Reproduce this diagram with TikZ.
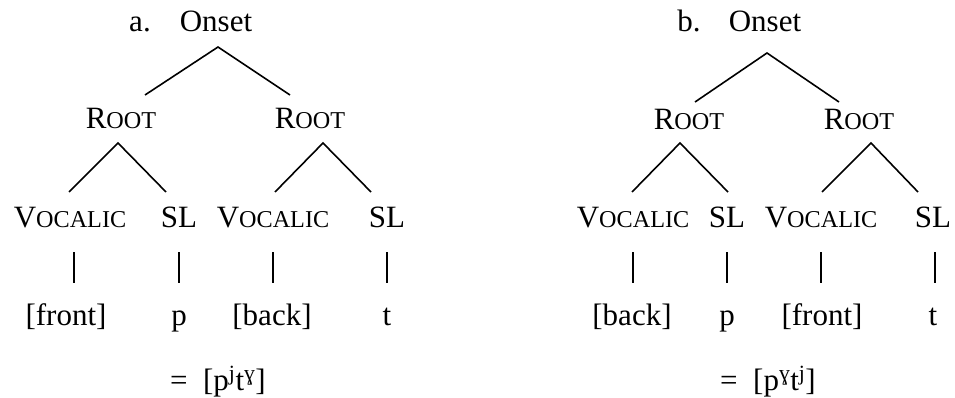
\documentclass[tikz,border=0pt]{standalone}
\usepackage{fontspec}
\setmainfont{Liberation Serif}
\newfontfamily\treefont{Liberation Serif}
\usetikzlibrary{positioning,calc}
\newcommand\treesize{\treefont\fontsize{31}{36}\selectfont}
\newcommand\smallcap[2]{#1{\fontsize{24.2}{28}\selectfont #2}}
\tikzset{
  lbl/.style={font=\treesize, anchor=base, inner sep=0pt},
  edge/.style={line width=1.6pt},
  bar/.style={line width=1.1pt},
}

\begin{document}
\begin{tikzpicture}[x=1pt,y=-1pt]
  \useasboundingbox (0,0) rectangle (955,398);

  % (a) front vowel on p, back vowel on t
  \node[lbl] (lbla) at (140,31.5) {a.};
  \node[lbl] (ona) at (216,31.5) {Onset};
  \node[lbl] (ra1) at (121,129) {\smallcap{R}{OOT}};
  \node[lbl] (ra2) at (310,129) {\smallcap{R}{OOT}};
  \node[lbl] (va1) at (70,227) {\smallcap{V}{OCALIC}};
  \node[lbl] (sa1) at (179,227) {SL};
  \node[lbl] (va2) at (273,227) {\smallcap{V}{OCALIC}};
  \node[lbl] (sa2) at (387,227) {SL};
  \node[lbl] (fa1) at (66,325) {[front]};
  \node[lbl] (pa) at (179,325) {p};
  \node[lbl] (fa2) at (272,325) {[back]};
  \node[lbl] (ta) at (387,325) {t};
  \node[lbl] (eqa) at (218,390) {=\enspace[p\textsuperscript{j}t\textsuperscript{ɣ}]};

  \draw[edge] ($(ra1.base)+(24,-34)$) -- ($(ona.base)+(2,15.5)$) -- ($(ra2.base)+(-20,-34)$);
  \draw[edge] ($(va1.base)+(-1,-35)$) -- ($(ra1.base)+(-3,14)$) -- ($(sa1.base)+(-13,-35)$);
  \draw[edge] ($(va2.base)+(2,-35)$) -- ($(ra2.base)+(13,14)$) -- ($(sa2.base)+(-16,-35)$);
  \foreach \up/\dn/\a/\b in {va1/fa1/4/8, sa1/pa/0/0, va2/fa2/0/1, sa2/ta/0/0}
    \draw[bar] ($(\up.base)+(\a,25)$) -- ($(\dn.base)+(\b,-42)$);

  % (b) back vowel on p, front vowel on t
  \node[lbl] (lblb) at (689,31.5) {b.};
  \node[lbl] (onb) at (765,31.5) {Onset};
  \node[lbl] (rb1) at (689,129.5) {\smallcap{R}{OOT}};
  \node[lbl] (rb2) at (859,129.5) {\smallcap{R}{OOT}};
  \node[lbl] (vb1) at (633,227) {\smallcap{V}{OCALIC}};
  \node[lbl] (sb1) at (727,227) {SL};
  \node[lbl] (vb2) at (821,227) {\smallcap{V}{OCALIC}};
  \node[lbl] (sb2) at (933,227) {SL};
  \node[lbl] (fb1) at (632,325) {[back]};
  \node[lbl] (pb) at (727,325) {p};
  \node[lbl] (fb2) at (822,325) {[front]};
  \node[lbl] (tb) at (933,325) {t};
  \node[lbl] (eqb) at (768,390) {=\enspace[p\textsuperscript{ɣ}t\textsuperscript{j}]};

  \draw[edge] ($(rb1.base)+(6,-27.5)$) -- ($(onb.base)+(2,21.5)$) -- ($(rb2.base)+(-20,-27.5)$);
  \draw[edge] ($(vb1.base)+(-1,-35)$) -- ($(rb1.base)+(-9,13.5)$) -- ($(sb1.base)+(1,-35)$);
  \draw[edge] ($(vb2.base)+(1,-35)$) -- ($(rb2.base)+(12,13.5)$) -- ($(sb2.base)+(-15,-35)$);
  \foreach \up/\dn/\a/\b in {vb1/fb1/0/1, sb1/pb/0/0, vb2/fb2/0/-1, sb2/tb/2/2}
    \draw[bar] ($(\up.base)+(\a,25)$) -- ($(\dn.base)+(\b,-42)$);
\end{tikzpicture}
\end{document}
